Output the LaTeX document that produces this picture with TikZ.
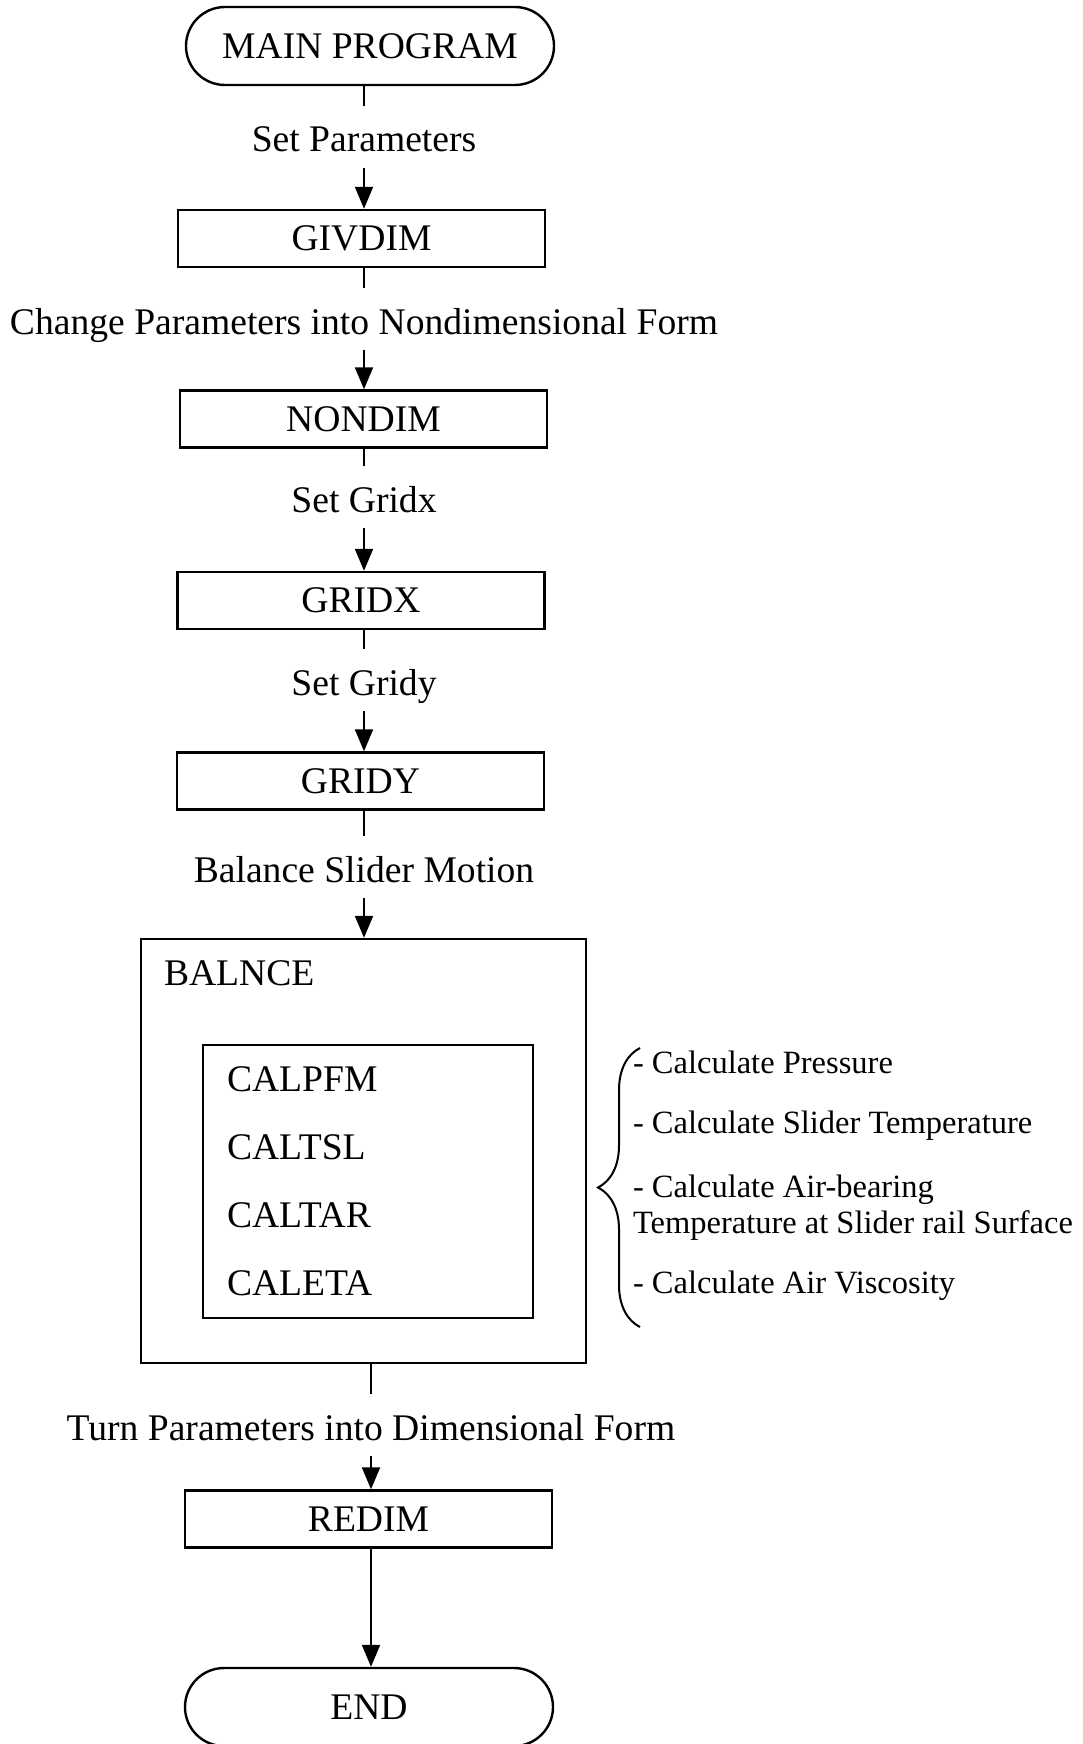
\documentclass[tikz,border=0pt]{standalone}
\usepackage{fontspec}
\setmainfont{Liberation Serif}
\usetikzlibrary{arrows.meta,shapes.misc,decorations.pathreplacing}

\begin{document}
\begin{tikzpicture}[x=0.5pt,y=-0.5pt,line width=1pt,
    font=\fontsize{18.8}{22}\selectfont,
    arr/.style={-{Triangle[width=9pt,length=11pt]}},
    term/.style={draw,line width=1.2pt,rounded rectangle,minimum width=184pt,minimum height=39pt,inner sep=0pt},
    proc/.style={draw,line width=1.2pt,minimum width=183.5pt,minimum height=28.5pt,inner sep=0pt},
    frame/.style={draw,line width=1.2pt,inner sep=0pt},
    lbl/.style={inner sep=0pt,text height=22.5pt,text depth=7.5pt},
    routine/.style={anchor=base west,inner sep=0pt},
    note/.style={anchor=base west,inner sep=0pt,font=\fontsize{16.25}{18}\selectfont}]
    \useasboundingbox (0,0) rectangle (1082,1744);

    % main column
    \node[term] (main) at (370,46) {MAIN PROGRAM};
    \node[lbl] (setpar) at (364,137) {Set Parameters};
    \node[proc] (givdim) at (361.5,238.5) {GIVDIM};
    \node[lbl] (nondimlbl) at (364,319) {Change Parameters into Nondimensional Form};
    \node[proc] (nondim) at (363.5,419) {NONDIM};
    \node[lbl] (setgx) at (364,497) {Set Gridx};
    \node[proc] (gridx) at (361,600.5) {GRIDX};
    \node[lbl] (setgy) at (364,680) {Set Gridy};
    \node[proc] (gridy) at (360.5,781) {GRIDY};
    \node[lbl] (balmot) at (364,867) {Balance Slider Motion};

    % BALNCE with the routines it calls
    \node[frame,minimum width=222.5pt,minimum height=212pt] (balnce) at (363.5,1151) {};
    \node[routine] (balname) at (163,985) {BALNCE};
    \node[frame,minimum width=165pt,minimum height=136.5pt] (calbox) at (368,1181.5) {};
    \foreach \name [count=\i] in {CALPFM,CALTSL,CALTAR,CALETA}
        \node[routine] (r\i) at (226,{1091+68*(\i-1)}) {\name};

    % what the routines do
    \draw[decorate,decoration={brace,amplitude=21pt}] (640,1327) coordinate (bbot) -- (640,1048) coordinate (btop);
    \node[note] (n1) at (632,1073) {- Calculate Pressure};
    \node[note] (n2) at (632,1133) {- Calculate Slider Temperature};
    \node[note] (n3) at (632,1197) {- Calculate Air-bearing};
    \node[note] (n3b) at (632,1233) {Temperature at Slider rail Surface};
    \node[note] (n4) at (632,1293) {- Calculate Air Viscosity};

    \node[lbl] (redimlbl) at (371,1425) {Turn Parameters into Dimensional Form};
    \node[proc] (redim) at (368.5,1519) {REDIM};
    \node[term] (end) at (369,1707) {END};

    % connectors: box -- label, label -> next box
    \foreach \a/\l/\b in {main/setpar/givdim,givdim/nondimlbl/nondim,nondim/setgx/gridx,
                          gridx/setgy/gridy,gridy/balmot/balnce,balnce/redimlbl/redim}{
        \draw (\a.south -| \l) -- (\l);
        \draw[arr] (\l) -- (\b.north -| \l);
    }
    \draw[arr] (redim.south -| redimlbl) -- (end.north -| redimlbl);
\end{tikzpicture}
\end{document}
